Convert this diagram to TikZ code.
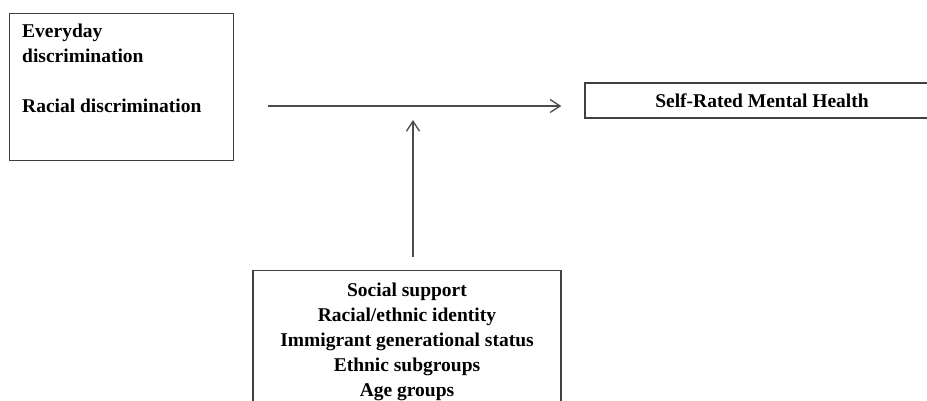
\documentclass[tikz,border=0pt]{standalone}
\usepackage{fontspec}
\setmainfont{Liberation Serif}
\usetikzlibrary{arrows.meta}

\begin{document}
\begin{tikzpicture}[x=1pt,y=-1pt,
    box/.style={draw=black!75, line width=1.4pt, inner sep=0pt},
    lbl/.style={font=\bfseries\fontsize{19.5}{25}\selectfont},
    arr/.style={draw=black!70, line width=1.3pt, -{Straight Barb[length=10pt,width=13pt]}}]
        % Frame of the page
        \useasboundingbox (0,0) rectangle (927,400);
        \clip (0,0) rectangle (927,400);

        % Discrimination box
        \node[box, anchor=north west, minimum width=224, minimum height=147] (pred) at (9,13) {};
        \node[lbl, anchor=north west, align=left, inner sep=0pt] (predtext) at (22,24.2) {Everyday\\discrimination\\[25pt]Racial discrimination};

        % Outcome box
        \node[box, lbl, minimum width=354, minimum height=35] (srmh) at (762,100.5) {Self-Rated Mental Health};

        % Moderators box
        \node[box, lbl, anchor=north, minimum width=308, align=center, inner ysep=11.8pt] (mods) at (407,270) {Social support\\Racial/ethnic  identity\\Immigrant  generational status\\Ethnic  subgroups\\Age groups};

        % Arrows
        \coordinate (mid) at (413,106);
        \draw[arr, shorten <=34pt] (pred.east |- mid) -- ([xshift=-23pt]srmh.west |- mid);
        \draw[arr, shorten <=13pt, shorten >=14pt] (mods.north -| mid) -- (mid);
    \end{tikzpicture}
\end{document}
